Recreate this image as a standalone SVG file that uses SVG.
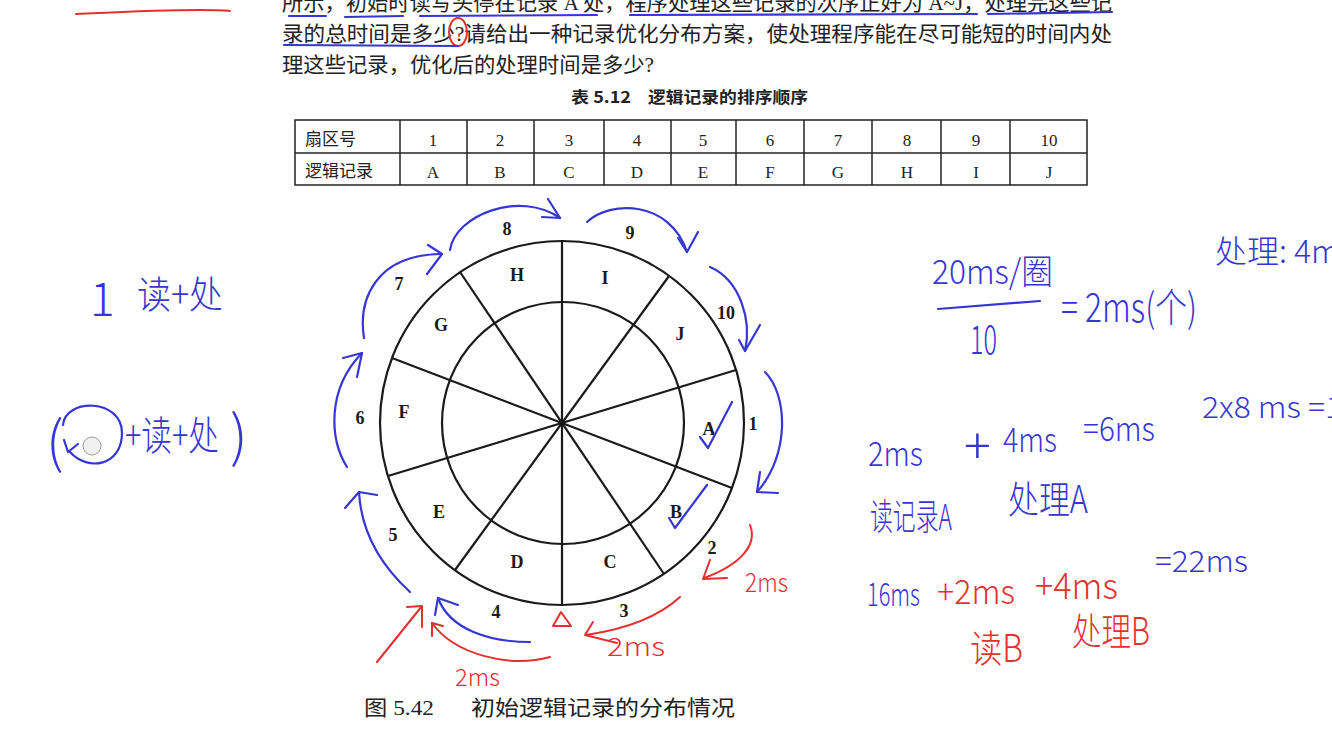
<svg xmlns="http://www.w3.org/2000/svg" width="1332" height="744" viewBox="0 0 1332 744">
<style>
.body{font-family:"Liberation Serif","Noto Sans CJK SC",serif;font-size:21px;fill:#222}
.hei{font-family:"Noto Sans CJK SC","Liberation Sans",sans-serif;fill:#222}
.num{font-family:"Liberation Serif",serif;font-size:18px;font-weight:700;fill:#1a1a1a;text-anchor:middle}
.let{font-family:"Liberation Serif",serif;font-size:18px;font-weight:700;fill:#1a1a1a;text-anchor:middle}
.tb{font-family:"Liberation Serif",serif;font-size:17px;fill:#222;text-anchor:middle}
.ln{stroke:#1a1a1a;stroke-width:2.2;fill:none}
.tl{stroke:#222;stroke-width:1.5;fill:none}
.bl{stroke:#3636d4;stroke-width:2.2;fill:none;stroke-linecap:round;stroke-linejoin:round}
.rd{stroke:#e53030;stroke-width:2;fill:none;stroke-linecap:round;stroke-linejoin:round}
.hb{font-family:"Noto Sans CJK SC","Liberation Sans",sans-serif;fill:#3636d4;font-weight:300}
.hr{font-family:"Noto Sans CJK SC","Liberation Sans",sans-serif;fill:#e53030;font-weight:300}
</style>
<rect width="1332" height="744" fill="#ffffff"/>

<g id="question-text">
<text class="body" x="282" y="10" textLength="830" lengthAdjust="spacingAndGlyphs">所示，初始时读写头停在记录 A 处，程序处理这些记录的次序正好为 A~J，处理完这些记</text>
<text class="body" x="282" y="41" textLength="830" lengthAdjust="spacingAndGlyphs">录的总时间是多少?请给出一种记录优化分布方案，使处理程序能在尽可能短的时间内处</text>
<text class="body" x="282" y="72" textLength="372" lengthAdjust="spacingAndGlyphs">理这些记录，优化后的处理时间是多少?</text>
<text class="hei" x="571" y="103" font-size="16" font-weight="700" textLength="60" lengthAdjust="spacingAndGlyphs">表 5.12</text>
<text class="hei" x="648" y="103" font-size="16" font-weight="700" textLength="160" lengthAdjust="spacingAndGlyphs">逻辑记录的排序顺序</text>
</g>

<g id="table">
<rect class="tl" x="295" y="120" width="792" height="65"/>
<line class="tl" x1="295" y1="153" x2="1087" y2="153"/>
<line class="tl" x1="400" y1="120" x2="400" y2="185"/>
<line class="tl" x1="467" y1="120" x2="467" y2="185"/>
<line class="tl" x1="534" y1="120" x2="534" y2="185"/>
<line class="tl" x1="604" y1="120" x2="604" y2="185"/>
<line class="tl" x1="671" y1="120" x2="671" y2="185"/>
<line class="tl" x1="736" y1="120" x2="736" y2="185"/>
<line class="tl" x1="804" y1="120" x2="804" y2="185"/>
<line class="tl" x1="872" y1="120" x2="872" y2="185"/>
<line class="tl" x1="941" y1="120" x2="941" y2="185"/>
<line class="tl" x1="1010" y1="120" x2="1010" y2="185"/>
<text class="hei" x="305" y="145" font-size="17">扇区号</text>
<text class="hei" x="305" y="177" font-size="17">逻辑记录</text>
<text class="tb" x="433" y="146">1</text><text class="tb" x="500" y="146">2</text><text class="tb" x="569" y="146">3</text><text class="tb" x="637" y="146">4</text><text class="tb" x="703" y="146">5</text><text class="tb" x="770" y="146">6</text><text class="tb" x="838" y="146">7</text><text class="tb" x="907" y="146">8</text><text class="tb" x="976" y="146">9</text><text class="tb" x="1049" y="146">10</text>
<text class="tb" x="433" y="178">A</text><text class="tb" x="500" y="178">B</text><text class="tb" x="569" y="178">C</text><text class="tb" x="637" y="178">D</text><text class="tb" x="703" y="178">E</text><text class="tb" x="770" y="178">F</text><text class="tb" x="838" y="178">G</text><text class="tb" x="907" y="178">H</text><text class="tb" x="976" y="178">I</text><text class="tb" x="1049" y="178">J</text>
</g>

<g id="disk">
<circle class="ln" cx="562" cy="423" r="182"/>
<circle class="ln" cx="563" cy="423" r="121"/>
<line class="ln" x1="562" y1="241" x2="562" y2="605"/>
<line class="ln" x1="669" y1="276" x2="455" y2="570"/>
<line class="ln" x1="736" y1="370" x2="388" y2="476"/>
<line class="ln" x1="732" y1="488" x2="392" y2="358"/>
<line class="ln" x1="460" y1="272" x2="664" y2="574"/>
</g>

<g id="sector-labels">
<text class="let" x="517" y="281">H</text>
<text class="let" x="605" y="284">I</text>
<text class="let" x="680" y="340">J</text>
<text class="let" x="709" y="435">A</text>
<text class="let" x="676" y="518">B</text>
<text class="let" x="610" y="568">C</text>
<text class="let" x="517" y="568">D</text>
<text class="let" x="439" y="518">E</text>
<text class="let" x="404" y="418">F</text>
<text class="let" x="441" y="331">G</text>
<text class="num" x="507" y="235">8</text>
<text class="num" x="630" y="239">9</text>
<text class="num" x="726" y="319">10</text>
<text class="num" x="753" y="430">1</text>
<text class="num" x="712" y="554">2</text>
<text class="num" x="624" y="617">3</text>
<text class="num" x="496" y="618">4</text>
<text class="num" x="393" y="541">5</text>
<text class="num" x="360" y="424">6</text>
<text class="num" x="399" y="290">7</text>
</g>

<g id="caption">
<text class="body" x="364" y="715" font-size="22" textLength="70" lengthAdjust="spacingAndGlyphs">图 5.42</text>
<text class="body" x="471" y="715" font-size="22" textLength="264" lengthAdjust="spacingAndGlyphs">初始逻辑记录的分布情况</text>
</g>

<g id="connectors">
<path class="bl" d="M410,592 Q362,548 359,492"/><path class="bl" d="M345,508 L359,492 L377,495"/>
<path class="bl" d="M347,467 C330,440 326,390 362,353"/><path class="bl" d="M343,358 L362,353 L357,377"/>
<path class="bl" d="M364,338 C358,300 375,255 441,254"/><path class="bl" d="M428,245 L442,254 L427,274"/>
<path class="bl" d="M450,250 C455,215 520,190 560,218"/><path class="bl" d="M548,199 L560,218 L542,217"/>
<path class="bl" d="M587,222 C610,200 670,200 687,252"/><path class="bl" d="M678,238 L687,252 L698,232"/>
<path class="bl" d="M710,267 C740,280 752,320 745,351"/><path class="bl" d="M739,340 L745,351 L760,325"/>
<path class="bl" d="M765,372 C788,395 790,455 757,492"/><path class="bl" d="M760,472 L757,492 L778,493"/>
<path class="bl" d="M530,642 C490,642 450,630 438,598"/><path class="bl" d="M435,615 L438,598 L458,605"/>
<path class="rd" d="M750,525 C758,545 740,565 704,578"/><path class="rd" d="M710,560 L703,579 L727,578"/>
<path class="rd" d="M680,597 C655,620 620,630 586,635"/><path class="rd" d="M593,622 L585,635 L617,643"/>
<path class="rd" d="M550,657 C510,668 455,655 432,623"/><path class="rd" d="M432,636 L432,623 L443,626"/>
<path class="rd" d="M377,662 L422,606"/><path class="rd" d="M407,607 L422,606 L422,627"/>
</g>

<g id="marks">
<polygon class="rd" points="553,626 561,612 571,626"/>
<path class="bl" d="M700,437 L708,448 L732,402"/>
<path class="bl" d="M669,518 L675,528 L707,485"/>
<path class="rd" d="M76,14 C120,12 160,10 200,10 C215,10 225,10 230,11"/>
<ellipse class="rd" cx="458" cy="32" rx="9" ry="14" stroke-width="1.5"/>
<path class="bl" stroke-width="1.6" d="M289,16 L326,16 M345,17 L403,16 M420,16 L597,15 M630,15 L977,14 M988,14 L1112,12"/>
<path class="bl" stroke-width="1.6" d="M284,45 L458,46"/>
<path class="bl" d="M938,309 L1040,301"/>
<path class="bl" d="M63,425 C65,398 122,398 122,433 C122,466 88,472 70,452"/>
<path class="bl" d="M64,440 L68,452 L78,444"/>
<circle cx="92" cy="446" r="9" fill="#f0f0f0" stroke="#999" stroke-width="1"/>
</g>

<g id="notes">
<text class="hb" x="90" y="316" font-size="46">1</text>
<text class="hb" x="137" y="308" font-size="38" textLength="86" lengthAdjust="spacingAndGlyphs">读+处</text>
<text class="hb" x="46" y="462" font-size="56">(</text>
<text class="hb" x="125" y="450" font-size="32" textLength="94" lengthAdjust="spacingAndGlyphs" transform="translate(125 450) scale(1 1.25) translate(-125 -450)">+读+处</text>
<text class="hb" x="230" y="456" font-size="56">)</text>
<text class="hb" x="932" y="284" font-size="34" textLength="121" lengthAdjust="spacingAndGlyphs">20ms/圈</text>
<text class="hb" x="970" y="354" font-size="40" textLength="27" lengthAdjust="spacingAndGlyphs">10</text>
<text class="hb" x="1061" y="322" font-size="40" textLength="136" lengthAdjust="spacingAndGlyphs">= 2ms(个)</text>
<text class="hb" x="1215" y="263" font-size="32" textLength="125" lengthAdjust="spacingAndGlyphs">处理: 4m</text>
<text class="hb" x="868" y="466" font-size="34" textLength="55" lengthAdjust="spacingAndGlyphs">2ms</text>
<text class="hb" x="964" y="464" font-size="50">+</text>
<text class="hb" x="1003" y="452" font-size="34" textLength="54" lengthAdjust="spacingAndGlyphs">4ms</text>
<text class="hb" x="1083" y="441" font-size="34" textLength="72" lengthAdjust="spacingAndGlyphs">=6ms</text>
<text class="hb" x="1202" y="418" font-size="30" textLength="140" lengthAdjust="spacingAndGlyphs">2x8 ms =1</text>
<text class="hb" x="870" y="530" font-size="36" textLength="82" lengthAdjust="spacingAndGlyphs">读记录A</text>
<text class="hb" x="1008" y="513" font-size="38" textLength="80" lengthAdjust="spacingAndGlyphs">处理A</text>
<text class="hb" x="867" y="606" font-size="32" textLength="53" lengthAdjust="spacingAndGlyphs">16ms</text>
<text class="hr" x="937" y="604" font-size="34" textLength="78" lengthAdjust="spacingAndGlyphs">+2ms</text>
<text class="hr" x="1035" y="599" font-size="36" textLength="83" lengthAdjust="spacingAndGlyphs">+4ms</text>
<text class="hb" x="1155" y="572" font-size="30" textLength="93" lengthAdjust="spacingAndGlyphs">=22ms</text>
<text class="hr" x="970" y="662" font-size="38" textLength="53" lengthAdjust="spacingAndGlyphs">读B</text>
<text class="hr" x="1072" y="645" font-size="38" textLength="78" lengthAdjust="spacingAndGlyphs">处理B</text>
<text class="hr" x="745" y="592" font-size="26" textLength="43" lengthAdjust="spacingAndGlyphs">2ms</text>
<text class="hr" x="607" y="656" font-size="25" textLength="58" lengthAdjust="spacingAndGlyphs">2ms</text>
<text class="hr" x="455" y="686" font-size="24" textLength="45" lengthAdjust="spacingAndGlyphs">2ms</text>
</g>
</svg>
